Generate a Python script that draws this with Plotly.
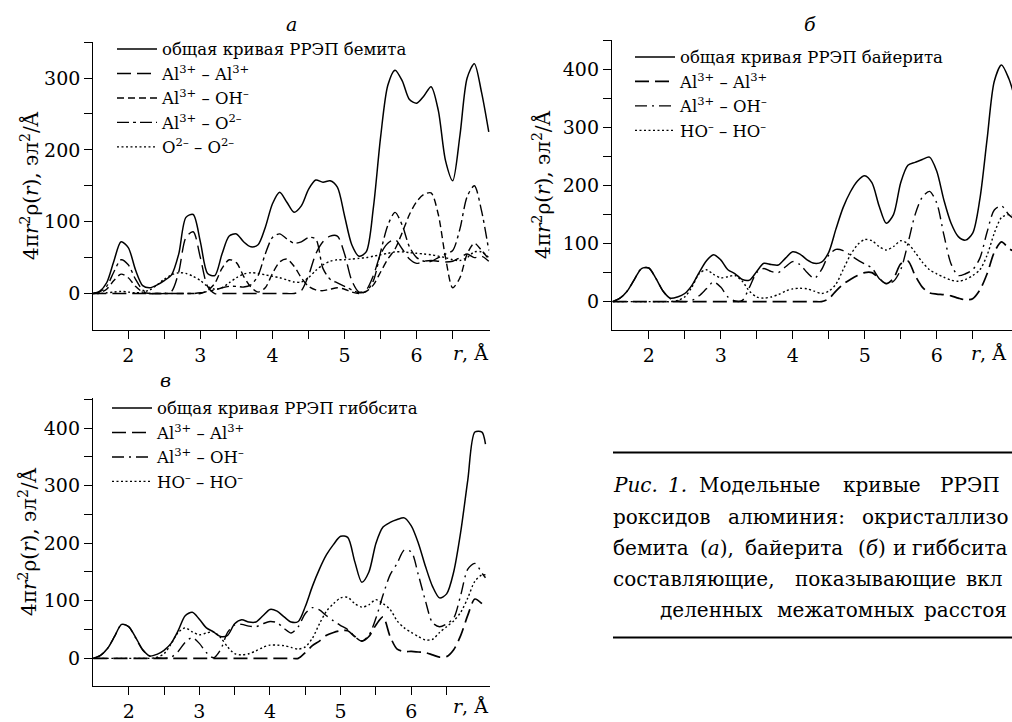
import plotly.graph_objects as go

W, H = 1012, 722
FONT = "DejaVu Serif"


def px(x):
    return x / W


def py(y):
    return 1 - y / H


# ---------------- data ----------------
r_grid = [1.5, 1.6, 1.7, 1.8, 1.9, 2.0, 2.1, 2.2, 2.3, 2.4, 2.5, 2.6, 2.7, 2.8, 2.9,
          3.0, 3.1, 3.2, 3.3, 3.4, 3.5, 3.6, 3.7, 3.8, 3.9, 4.0, 4.1, 4.2, 4.3, 4.4,
          4.5, 4.6, 4.7, 4.8, 4.9, 5.0, 5.1, 5.2, 5.3, 5.4, 5.5, 5.6, 5.7, 5.8, 5.9,
          6.0, 6.1, 6.2, 6.3, 6.4, 6.5, 6.6, 6.7, 6.8, 6.9, 7.0]
r_grid_b = r_grid + [7.1]
r_grid_c = r_grid + [7.05]

# panel a (boehmite)
a_total = [0, 3, 15, 45, 72, 64, 33, 11, 8, 12, 18, 26, 55, 106, 110, 72, 28, 25, 55, 80,
           83, 72, 65, 68, 92, 125, 141, 127, 113, 122, 145, 158, 155, 157, 148, 108, 68, 52, 58, 120,
           218, 290, 311, 296, 270, 265, 275, 288, 255, 185, 157, 220, 300, 320, 280, 225]
a_alal = [0, 0, 0, 0, 0, 0, 0, 0, 0, 0, 0, 3, 30, 78, 86, 50, 10, 0, 0, 0,
          0, 0, 0, 0, 0, 0, 0, 0, 0, 4, 25, 55, 72, 80, 80, 55, 18, 2, 5, 25,
          55, 70, 75, 62, 48, 42, 45, 46, 45, 44, 45, 50, 55, 50, 52, 45]
a_aloh = [0, 1, 6, 18, 27, 22, 10, 2, 0, 0, 0, 0, 0, 0, 0, 0, 4, 14, 35, 47,
          43, 24, 9, 2, 8, 28, 44, 48, 38, 22, 10, 5, 4, 6, 8, 6, 2, 0, 3, 12,
          30, 48, 62, 85, 110, 128, 138, 140, 110, 50, 8, 22, 55, 70, 60, 48]
a_alo = [0, 2, 10, 30, 47, 40, 20, 5, 0, 0, 0, 0, 0, 0, 0, 1, 3, 5, 8, 10,
         10, 9, 12, 25, 55, 78, 83, 76, 70, 72, 78, 76, 35, 20, 15, 10, 5, 1, 3, 18,
         58, 95, 113, 95, 65, 50, 45, 45, 50, 55, 60, 90, 135, 150, 115, 60]
a_oo = [0, 0, 1, 2, 3, 2, 1, 2, 5, 12, 20, 26, 29, 28, 24, 18, 10, 6, 8, 15,
        22, 27, 29, 28, 26, 24, 22, 19, 16, 16, 22, 32, 40, 45, 47, 47, 48, 49, 50, 52,
        54, 56, 58, 58, 57, 56, 55, 54, 52, 50, 47, 46, 50, 58, 58, 50]

# panel b (bayerite)
b_total = [0, 6, 18, 38, 57, 58, 40, 18, 6, 8, 14, 28, 50, 70, 81, 72, 55, 48, 38, 37,
           52, 66, 64, 63, 75, 86, 82, 72, 66, 68, 85, 125, 162, 189, 208, 217, 205, 165, 135, 150,
           205, 235, 240, 245, 249, 225, 175, 135, 112, 106, 118, 177, 280, 380, 408, 385, 345]
b_alal = [0, 0, 0, 0, 0, 0, 0, 0, 0, 0, 0, 0, 0, 0, 0, 0, 0, 0, 0, 0,
          0, 0, 0, 0, 0, 0, 0, 0, 0, 0, 5, 18, 30, 38, 45, 50, 50, 40, 31, 40,
          65, 70, 45, 25, 15, 13, 12, 10, 6, 3, 5, 20, 48, 85, 103, 92, 85]
b_aloh = [0, 6, 18, 38, 57, 58, 40, 18, 5, 1, 0, 2, 10, 22, 34, 25, 8, 1, 2, 25,
          50, 57, 52, 50, 60, 69, 64, 50, 40, 55, 80, 90, 88, 80, 72, 65, 58, 40, 31, 35,
          55, 100, 150, 180, 190, 170, 115, 65, 45, 48, 55, 75, 120, 158, 165, 150, 140]
b_hoho = [0, 0, 0, 0, 0, 0, 0, 0, 0, 2, 8, 25, 48, 55, 47, 41, 43, 45, 35, 18,
          8, 6, 8, 12, 18, 22, 23, 22, 18, 14, 18, 30, 55, 80, 98, 107, 105, 95, 89, 95,
          105, 100, 85, 68, 55, 48, 42, 37, 35, 38, 45, 55, 80, 118, 145, 150, 148]

# panel c (gibbsite)
c_total = [0, 5, 17, 38, 59, 55, 36, 15, 4, 7, 14, 26, 48, 74, 80, 68, 53, 46, 38, 40,
           60, 67, 63, 63, 74, 85, 82, 72, 63, 64, 90, 125, 155, 180, 198, 212, 210, 168, 132, 150,
           200, 228, 236, 241, 244, 230, 200, 160, 125, 105, 112, 150, 220, 310, 393, 393, 372]
c_alal = [0, 0, 0, 0, 0, 0, 0, 0, 0, 0, 0, 0, 0, 0, 0, 0, 0, 0, 0, 0,
          0, 0, 0, 0, 0, 0, 0, 0, 0, 0, 10, 22, 30, 40, 45, 48, 48, 38, 30, 38,
          58, 72, 38, 16, 12, 12, 11, 10, 6, 2, 3, 15, 40, 75, 103, 95, 88]
c_aloh = [0, 5, 17, 38, 59, 55, 35, 14, 4, 1, 0, 2, 12, 28, 36, 26, 10, 1, 15, 45,
          58, 59, 56, 55, 60, 64, 62, 52, 44, 55, 78, 88, 84, 74, 65, 57, 50, 38, 30, 40,
          70, 110, 145, 165, 188, 185, 145, 100, 62, 55, 60, 70, 110, 155, 165, 148, 140]
c_hoho = [0, 0, 0, 0, 0, 0, 0, 0, 0, 2, 8, 25, 45, 53, 46, 41, 44, 46, 36, 20,
          8, 6, 8, 13, 19, 23, 23, 22, 19, 16, 20, 35, 60, 82, 95, 105, 106, 95, 89, 93,
          102, 95, 85, 65, 53, 45, 38, 32, 33, 45, 55, 65, 80, 105, 134, 145, 145]

x_ticks = [2, 3, 4, 5, 6]
x_minor = [2.5, 3.5, 4.5, 5.5, 6.5]
y_ticks_a = [0, 100, 200, 300]
y_minor_a = [50, 150, 250, 350]
y_ticks_bc = [0, 100, 200, 300, 400]
y_minor_bc = [50, 150, 250, 350, 450]

names_a = ["общая кривая РРЭП бемита", "Al<sup>3+</sup> – Al<sup>3+</sup>",
           "Al<sup>3+</sup> – OH<sup>–</sup>", "Al<sup>3+</sup> – O<sup>2–</sup>",
           "O<sup>2–</sup> – O<sup>2–</sup>"]
names_b = ["общая кривая РРЭП байерита", "Al<sup>3+</sup> – Al<sup>3+</sup>",
           "Al<sup>3+</sup> – OH<sup>–</sup>", "HO<sup>–</sup> – HO<sup>–</sup>"]
names_c = ["общая кривая РРЭП гиббсита", "Al<sup>3+</sup> – Al<sup>3+</sup>",
           "Al<sup>3+</sup> – OH<sup>–</sup>", "HO<sup>–</sup> – HO<sup>–</sup>"]

# ---------------- figure ----------------
fig = go.Figure()

SOLID = "solid"
LONG = "14px,6px"
SHORT = "7px,4px"
DASHDOT = "12px,4px,3px,4px"
DASHDOT2 = "12px,5px,2px,5px"
DOT = "2px,2.5px"


def add(xs, ys, xa, ya, name, dash, legend, width=1.4):
    fig.add_trace(go.Scatter(
        x=xs, y=ys, mode="lines", name=name, xaxis=xa, yaxis=ya,
        legend=legend, legendgroup=legend + name,
        line=dict(color="black", width=width, dash=dash, shape="spline", smoothing=0.8),
        hoverinfo="skip"))


add(r_grid, a_total, "x", "y", names_a[0], SOLID, "legend", 1.5)
add(r_grid, a_alal, "x", "y", names_a[1], LONG, "legend")
add(r_grid, a_aloh, "x", "y", names_a[2], SHORT, "legend")
add(r_grid, a_alo, "x", "y", names_a[3], DASHDOT, "legend")
add(r_grid, a_oo, "x", "y", names_a[4], DOT, "legend")

add(r_grid_b, b_total, "x2", "y2", names_b[0], SOLID, "legend2", 1.5)
add(r_grid_b, b_alal, "x2", "y2", names_b[1], LONG, "legend2", 1.7)
add(r_grid_b, b_aloh, "x2", "y2", names_b[2], DASHDOT2, "legend2")
add(r_grid_b, b_hoho, "x2", "y2", names_b[3], DOT, "legend2")

add(r_grid_c, c_total, "x3", "y3", names_c[0], SOLID, "legend3", 1.5)
add(r_grid_c, c_alal, "x3", "y3", names_c[1], LONG, "legend3", 1.7)
add(r_grid_c, c_aloh, "x3", "y3", names_c[2], DASHDOT2, "legend3")
add(r_grid_c, c_hoho, "x3", "y3", names_c[3], DOT, "legend3")

minor_common = dict(ticks="outside", ticklen=8, tickwidth=1.3, tickcolor="black", showgrid=False)
axis_common = dict(
    showline=True, linecolor="black", linewidth=1.3, ticks="outside", ticklen=8,
    tickwidth=1.3, tickcolor="black", showgrid=False, zeroline=False,
    tickfont=dict(family=FONT, size=19, color="black"), mirror=False, fixedrange=True)

legend_common = dict(
    font=dict(family=FONT, size=16.5, color="black"), bgcolor="rgba(0,0,0,0)",
    borderwidth=0, xanchor="left", yanchor="top", tracegroupgap=0, itemwidth=40)

fig.update_layout(
    width=W, height=H, margin=dict(l=0, r=0, t=0, b=0),
    paper_bgcolor="white", plot_bgcolor="white", showlegend=True,
    xaxis=dict(domain=[px(93.3), px(490)], range=[1.515, 7.017], anchor="y",
               tickvals=x_ticks, minor=dict(tickvals=x_minor, **minor_common), **axis_common),
    yaxis=dict(domain=[py(332), py(42)], range=[-51, 350.5], anchor="x",
               tickvals=y_ticks_a, minor=dict(tickvals=y_minor_a, **minor_common), **axis_common),
    xaxis2=dict(domain=[px(612), 1.0], range=[1.49, 7.046], anchor="y2",
                tickvals=x_ticks, minor=dict(tickvals=x_minor, **minor_common), **axis_common),
    yaxis2=dict(domain=[py(331.7), py(40)], range=[-48.7, 451.4], anchor="x2",
                tickvals=y_ticks_bc, minor=dict(tickvals=y_minor_bc, **minor_common), **axis_common),
    xaxis3=dict(domain=[px(93), px(490)], range=[1.495, 7.114], anchor="y3",
                tickvals=x_ticks, minor=dict(tickvals=x_minor, **minor_common), **axis_common),
    yaxis3=dict(domain=[py(689.7), py(400)], range=[-47.8, 452.5], anchor="x3",
                tickvals=y_ticks_bc, minor=dict(tickvals=y_minor_bc, **minor_common), **axis_common),
    legend=dict(x=px(112), y=py(32), **legend_common),
    legend2=dict(x=px(630), y=py(40), **legend_common),
    legend3=dict(x=px(107), y=py(393), **legend_common),
)

ann = []
ytitle = "4π<i>r</i><sup>2</sup>ρ(<i>r</i>), эл<sup>2</sup>/Å"
for (xx, yy) in [(30, 187), (542, 186), (28, 545)]:
    ann.append(dict(x=px(xx), y=py(yy), xref="paper", yref="paper", text=ytitle,
                    textangle=-90, showarrow=False, xanchor="center", yanchor="middle",
                    font=dict(family=FONT, size=20, color="black")))
for (xx, yy) in [(470, 355), (988, 355), (470, 710)]:
    ann.append(dict(x=px(xx), y=py(yy), xref="paper", yref="paper", text="<i>r</i>, Å",
                    showarrow=False, xanchor="center", yanchor="middle",
                    font=dict(family=FONT, size=19, color="black")))
for (xx, yy, t) in [(291, 24, "а"), (810, 24, "б"), (165, 382, "в")]:
    ann.append(dict(x=px(xx), y=py(yy), xref="paper", yref="paper", text="<i>" + t + "</i>",
                    showarrow=False, xanchor="center", yanchor="middle",
                    font=dict(family=FONT, size=19, color="black")))

caption = [
    (488, [(613, "<i>Рис.</i>"), (668, "<i>1.</i>"), (699, "Модельные"), (843, "кривые"), (940, "РРЭП")]),
    (520, [(613, "роксидов"), (728, "алюминия:"), (862, "окристаллизо")]),
    (551, [(613, "бемита"), (700, "(<i>а</i>),"), (745, "байерита"), (858, "(<i>б</i>)"),
           (893, "и"), (912, "гиббсита")]),
    (582, [(613, "составляющие,"), (795, "показывающие"), (966, "вкл")]),
    (613, [(660, "деленных"), (777, "межатомных"), (924, "расстоя")]),
]
for yy, words in caption:
    for xx, t in words:
        ann.append(dict(x=px(xx), y=py(yy), xref="paper", yref="paper", text=t,
                        showarrow=False, xanchor="left", yanchor="middle",
                        xshift=-2, font=dict(family=FONT, size=20, color="black")))

fig.update_layout(annotations=ann)
fig.add_shape(type="line", xref="paper", yref="paper", x0=px(613), x1=1.0, y0=py(455), y1=py(455),
              line=dict(color="black", width=2))
fig.add_shape(type="line", xref="paper", yref="paper", x0=px(613), x1=1.0, y0=py(641), y1=py(641),
              line=dict(color="black", width=2))

fig.write_html("out.html")
